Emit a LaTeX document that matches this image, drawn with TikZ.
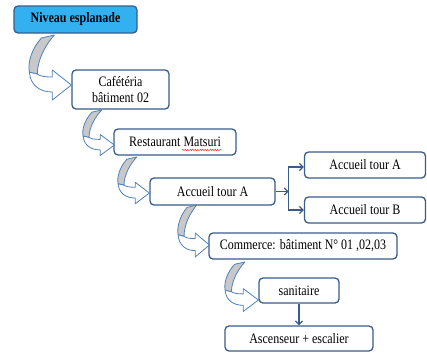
\documentclass[tikz,border=0pt]{standalone}
\usepackage{fontspec}
\usepackage{graphicx}
\setmainfont{Liberation Serif}
\usetikzlibrary{arrows.meta,calc,decorations.pathmorphing}
\definecolor{boxline}{RGB}{56,93,138}
\definecolor{esp}{RGB}{51,176,240}
\definecolor{arrline}{RGB}{79,129,189}
\definecolor{arrgray}{RGB}{200,200,200}
\newcommand{\tx}[1]{\scalebox{1}[1.2]{#1}}
\tikzset{
  box/.style={draw=boxline, line width=1.3pt, rounded corners=4pt, fill=white,
    align=center, inner sep=0pt, font=\fontsize{12}{16}\selectfont},
  conn/.style={draw=boxline, line width=1.3pt, -{Straight Barb[length=3.5pt,width=7pt]}},
  bendline/.style={draw=arrline, line width=0.8pt, line join=round}
}
\newcommand{\bendarrow}[3]{%
\begin{scope}[shift={#1},xscale=#2,yscale=#3]
 \filldraw[bendline, fill=white] (-0.977,-0.26) .. controls (-0.953,0) and (-0.744,0.14) .. (-0.442,0.14) -- (-0.442,0.30) -- (0,0) -- (-0.442,-0.30) -- (-0.442,-0.16) .. controls (-0.628,-0.16) and (-0.744,-0.18) .. (-0.791,-0.22) -- cycle;
 \filldraw[bendline, fill=arrgray] (-0.698,-0.94) .. controls (-0.907,-0.74) and (-1.023,-0.46) .. (-0.977,-0.26) -- (-0.791,-0.22) .. controls (-0.791,-0.50) and (-0.605,-0.80) .. (-0.395,-1.0) -- cycle;
\end{scope}}
\begin{document}
\begin{tikzpicture}[x=1pt,y=-1pt]
\useasboundingbox (0,0) rectangle (427,354);
\node[box, fill=esp, font=\fontsize{12}{15}\selectfont\bfseries, minimum width=123pt, minimum height=27pt] (b1) at (75.5,19.5) {\tx{Niveau esplanade}};
\node[box, minimum width=97pt, minimum height=39pt] (b2) at (120.5,89.5) {\tx{Cafétéria}\\\tx{bâtiment 02}};
\node[box, minimum width=122pt, minimum height=26pt] (b3) at (175,142) {\tx{Restaurant Matsuri}};
\node[box, minimum width=125pt, minimum height=27pt] (b4) at (212.5,191.5) {\tx{Accueil tour A}};
\node[box, minimum width=121pt, minimum height=26pt] (b5) at (365,165) {\tx{Accueil tour A}};
\node[box, minimum width=121pt, minimum height=26pt] (b6) at (365,210) {\tx{Accueil tour B}};
\node[box, minimum width=188pt, minimum height=26pt] (b7) at (303,246) {\tx{Commerce: bâtiment N° 01 ,02,03}};
\node[box, minimum width=80pt, minimum height=25pt] (b8) at (299,290.5) {\tx{sanitaire}};
\node[box, minimum width=148pt, minimum height=25pt] (b9) at (299,338.5) {\tx{Ascenseur + escalier}};
% spelling underline
\draw[red, line width=0.4pt, decorate, decoration={snake, segment length=2.5pt, amplitude=0.6pt}] ($(b3.center)+(7,8)$) -- ($(b3.center)+(47,8)$);
% curved arrows
\bendarrow{($(b2.west)+(0,-4.5)$)}{43}{50}
\bendarrow{($(b3.west)+(1,3)$)}{32}{35}
\bendarrow{($(b4.west)+(0,1.5)$)}{32}{36}
\bendarrow{($(b7.west)+(1,-1)$)}{32}{40}
\bendarrow{($(b8.west)+(0,9.5)$)}{34}{38}
% connectors
\coordinate (fork) at ($(b4.east)+(13,0)$);
\draw[conn] (b4.east) -- (fork);
\draw[conn] (fork) |- ($(b5.west)+(0,2)$);
\draw[conn] (fork) |- (b6.west);
\draw[conn] (b8.south) -- (b9.north);
\end{tikzpicture}
\end{document}
